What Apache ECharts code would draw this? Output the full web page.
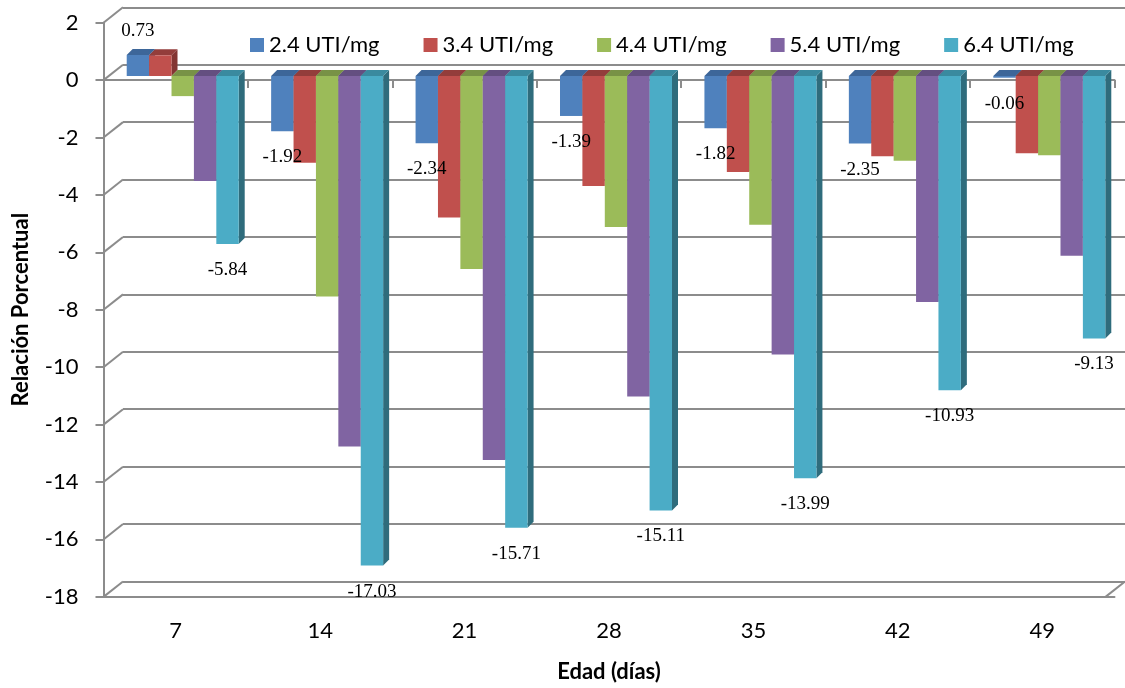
<!DOCTYPE html>
<html><head><meta charset="utf-8">
<script src="https://cdn.jsdelivr.net/npm/echarts@6/dist/echarts.min.js"></script>
<style>html,body{margin:0;padding:0;background:#fff}#c{width:1125px;height:688px}</style>
</head><body><div id="c"></div>
<script>
// ---- data ----
const categories = ['7', '14', '21', '28', '35', '42', '49'];
const seriesNames = ['2.4 UTI/mg', '3.4 UTI/mg', '4.4 UTI/mg', '5.4 UTI/mg', '6.4 UTI/mg'];
const s24 = [0.73, -1.92, -2.34, -1.39, -1.82, -2.35, -0.06];
const s34 = [0.72, -3.02, -4.92, -3.83, -3.34, -2.79, -2.69];
const s44 = [-0.70, -7.67, -6.71, -5.25, -5.17, -2.95, -2.76];
const s54 = [-3.65, -12.89, -13.36, -11.15, -9.69, -7.86, -6.25];
const s64 = [-5.84, -17.03, -15.71, -15.11, -13.99, -10.93, -9.13];
const yMin = -18, yMax = 2, yStep = 2;
const labelledSeries = [0, 4];

// ---- styles ----
const frontColors = ['#4F81BD', '#C0504D', '#9BBB59', '#8064A2', '#4BACC6'];
const topColors = ['#3D6699', '#933D3B', '#789246', '#644F80', '#3A8A9F'];
const sideColors = ['#36587F', '#833533', '#6A813C', '#574570', '#2F6C7C'];
const allSeries = [s24, s34, s44, s54, s64];
const GRID_COL = '#8C8C8C';
const BAR_FRAC = 22.4 / 144.43;
const DX = 6, DY = 6;          // bar depth (px)
const WALL_DX = 19.5, WALL_DY = 15.4; // front->back offset (px)
const FONT = 'Lato, "Liberation Sans", sans-serif';

const chart = echarts.init(document.getElementById('c'), null, {renderer: 'canvas'});

function barGeom(si, api) {
  const idx = api.value(0), v = api.value(1);
  const p = api.coord([idx, v]), z = api.coord([idx, 0]);
  const band = api.size([1, 0])[0];
  const bw = band * BAR_FRAC;
  const xl = p[0] + (si - 2.5) * bw, xr = xl + bw;
  const yT = Math.min(p[1], z[1]), yB = Math.max(p[1], z[1]);
  return {v, xl, xr, yT, yB, bw};
}

function barRender(si) {
  return function (params, api) {
    const g = barGeom(si, api);
    return {
      type: 'group',
      children: [
        {type: 'polygon', shape: {points: [[g.xr, g.yT], [g.xr + DX, g.yT - DY], [g.xr + DX, g.yB - DY], [g.xr, g.yB]]},
          style: {fill: sideColors[si]}},
        {type: 'polygon', shape: {points: [[g.xl, g.yT], [g.xl + DX, g.yT - DY], [g.xr + DX, g.yT - DY], [g.xr, g.yT]]},
          style: {fill: topColors[si]}},
        {type: 'rect', shape: {x: g.xl, y: g.yT, width: g.bw, height: g.yB - g.yT},
          style: {fill: frontColors[si]}}
      ]
    };
  };
}

function labelRender(si) {
  return function (params, api) {
    const g = barGeom(si, api);
    const cx = (g.xl + g.xr) / 2;
    const y = g.v < 0 ? g.yB + 26 : g.yT - 24;
    return {
      type: 'text', x: cx, y: y,
      style: {text: g.v.toFixed(2), align: 'center', verticalAlign: 'middle',
        font: '19px "Liberation Serif", serif', fill: '#000'}
    };
  };
}

function wallRender(params, api) {
  const x = api.value(0), v = api.value(1);
  const p = api.coord([x, v]);
  return {
    type: 'line',
    shape: {x1: p[0], y1: p[1], x2: p[0] - WALL_DX, y2: p[1] + WALL_DY},
    style: {stroke: GRID_COL, lineWidth: 2}
  };
}

const yTickVals = [];
for (let v = yMin; v <= yMax; v += yStep) yTickVals.push(v);
const wallData = yTickVals.map(v => [0, v]).concat([[7, yMin]]);

const series = [];
allSeries.forEach((arr, si) => {
  series.push({
    name: seriesNames[si], type: 'custom', xAxisIndex: 3, yAxisIndex: 2,
    itemStyle: {color: frontColors[si]},
    renderItem: barRender(si), z: 3 + si,
    data: arr.map((v, i) => [i, v])
  });
});
labelledSeries.forEach(si => {
  series.push({
    type: 'custom', xAxisIndex: 3, yAxisIndex: 2, z: 20, silent: true,
    renderItem: labelRender(si),
    data: allSeries[si].map((v, i) => [i, v])
  });
});
series.push({type: 'custom', xAxisIndex: 2, yAxisIndex: 1, z: 1, silent: true,
  renderItem: wallRender, data: wallData});

const option = {
  backgroundColor: '#fff',
  animation: false,
  legend: {
    data: seriesNames.map((n, i) => ({name: n, itemStyle: {color: frontColors[i]}})),
    icon: 'rect', itemWidth: 14, itemHeight: 14, itemGap: 44,
    left: 245, top: 29,
    textStyle: {fontFamily: FONT, fontSize: 22, color: '#000'}
  },
  grid: [
    {left: 103.5, top: 22.7, width: 1011, height: 574},
    {left: 123, top: 7.3, width: 1011, height: 574.2},
    {left: 110.5, top: 18.5, width: 1011, height: 575}
  ],
  xAxis: [
    {gridIndex: 0, type: 'category', data: categories, position: 'bottom',
      axisLine: {onZero: false, lineStyle: {color: GRID_COL, width: 2}},
      axisTick: {show: false},
      axisLabel: {margin: 23, fontFamily: FONT, fontSize: 22, color: '#000'},
      name: 'Edad (días)', nameLocation: 'middle', nameGap: 64,
      nameTextStyle: {fontFamily: FONT, fontSize: 22, fontWeight: 'bold', color: '#000'}},
    {gridIndex: 0, type: 'category', data: categories, position: 'bottom',
      axisLine: {onZero: true, lineStyle: {color: GRID_COL, width: 2}},
      axisTick: {show: true, length: 8, lineStyle: {color: GRID_COL, width: 2}},
      axisLabel: {show: false}},
    {gridIndex: 1, type: 'value', min: 0, max: 7, show: false},
    {gridIndex: 2, type: 'category', data: categories, show: false}
  ],
  yAxis: [
    {gridIndex: 0, type: 'value', min: yMin, max: yMax, interval: yStep,
      axisLine: {show: true, onZero: false, lineStyle: {color: GRID_COL, width: 2}},
      axisTick: {show: true, length: 8, lineStyle: {color: GRID_COL, width: 2}},
      splitLine: {show: false},
      axisLabel: {margin: 25, fontFamily: FONT, fontSize: 22, color: '#000'},
      name: 'Relación Porcentual', nameLocation: 'middle', nameGap: 72, nameRotate: 90,
      nameTextStyle: {fontFamily: FONT, fontSize: 22, fontWeight: 'bold', color: '#000'}},
    {gridIndex: 1, type: 'value', min: yMin, max: yMax, interval: yStep,
      axisLine: {show: false}, axisTick: {show: false}, axisLabel: {show: false},
      splitLine: {show: true, lineStyle: {color: GRID_COL, width: 2}}},
    {gridIndex: 2, type: 'value', min: yMin, max: yMax, show: false}
  ],
  series: series
};
chart.setOption(option);
</script>
</body></html>
